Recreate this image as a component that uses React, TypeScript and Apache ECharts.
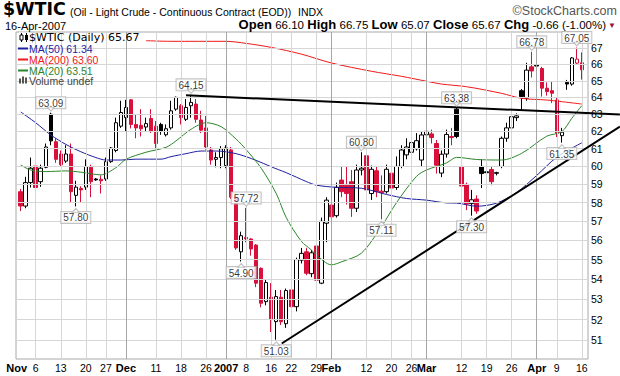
import React, { useEffect, useRef } from 'react';
import * as echarts from 'echarts';

// ---------- trading days (x categories) ----------
const novDays = [1, 2, 3, 6, 7, 8, 9, 10, 13, 14, 15, 16, 17, 20, 21, 22, 24, 27, 28, 29, 30];
const decDays = [1, 4, 5, 6, 7, 8, 11, 12, 13, 14, 15, 18, 19, 20, 21, 22, 26, 27, 28, 29];
const janDays = [2, 3, 4, 5, 8, 9, 10, 11, 12, 16, 17, 18, 19, 22, 23, 24, 25, 26, 29, 30, 31];
const febDays = [1, 2, 5, 6, 7, 8, 9, 12, 13, 14, 15, 16, 20, 21, 22, 23, 26, 27, 28];
const marDays = [1, 2, 5, 6, 7, 8, 9, 12, 13, 14, 15, 16, 19, 20, 21, 22, 23, 26, 27, 28, 29, 30];
const aprDays = [2, 3, 4, 5, 9, 10, 11, 12, 13, 16];

const pad = (n: number) => (n < 10 ? '0' : '') + n;
const dates: string[] = [
  ...novDays.map((d) => `2006-11-${pad(d)}`),
  ...decDays.map((d) => `2006-12-${pad(d)}`),
  ...janDays.map((d) => `2007-01-${pad(d)}`),
  ...febDays.map((d) => `2007-02-${pad(d)}`),
  ...marDays.map((d) => `2007-03-${pad(d)}`),
  ...aprDays.map((d) => `2007-04-${pad(d)}`),
];

// ---------- OHLC ----------
const opens = [
  58.6, 57.82, 59.1, 60.02, 59.15, 59.95, 63.0, 61.4, 60.7, 60.3,
  60.7, 58.4, 58.78, 58.85, 59.95, 59.3, 59.28, 59.3, 60.27, 60.9,
  62.3, 62.8, 63.85, 62.4, 62.35, 62.25, 62.75, 62.3, 62.4, 61.8,
  62.2, 63.3, 63.5, 62.7, 63.5, 63.6, 62.66, 62.2, 60.93, 60.4,
  60.5, 60.05, 60.93, 58.3, 55.4, 56.15, 56.07, 55.75, 54.55, 52.88,
  53.1, 51.9, 53.1, 51.8, 53.46, 52.63, 54.97, 55.4, 54.28, 55.7,
  53.8, 56.9, 57.87, 57.3, 59.24, 58.95, 59.15, 57.7, 59.8, 60.6,
  58.5, 59.76, 58.63, 58.6, 59.62, 58.83, 60.0, 60.65, 60.8, 61.0,
  60.36, 61.8, 61.85, 61.3, 59.63, 60.7, 61.7, 63.3, 60.0, 59.0,
  57.95, 58.2, 60.0, 59.7, 59.83, 59.65, 60.0, 61.6, 62.2, 62.8,
  64.4, 63.95, 65.85, 65.95, 65.75, 64.55, 64.4, 63.84, 61.75, 64.9,
  64.8, 66.08, 66.1,
];
const highs = [
  58.75, 59.42, 60.5, 60.36, 60.1, 61.3, 63.09, 61.6, 60.9, 61.2,
  61.3, 59.2, 58.9, 60.4, 60.1, 59.35, 59.5, 60.5, 61.1, 62.8,
  63.8, 63.85, 63.9, 63.0, 63.3, 62.8, 63.3, 62.6, 62.5, 62.4,
  63.8, 64.05, 63.6, 63.9, 64.15, 63.9, 63.2, 62.9, 61.1, 60.8,
  61.15, 61.2, 61.1, 58.4, 56.45, 57.72, 56.1, 55.8, 54.6, 54.0,
  53.8, 53.46, 53.46, 53.53, 53.65, 55.1, 55.6, 55.6, 55.5, 55.8,
  57.2, 58.3, 58.1, 59.1, 60.0, 60.0, 59.8, 60.1, 60.8, 60.7,
  60.05, 60.0, 59.5, 60.1, 59.7, 60.56, 61.2, 61.6, 61.67, 61.9,
  62.0, 62.45, 62.1, 61.5, 60.9, 62.1, 62.2, 63.38, 60.1, 59.1,
  58.7, 58.4, 60.4, 60.2, 60.0, 59.7, 61.7, 62.5, 63.1, 63.05,
  64.5, 66.1, 66.78, 66.0, 65.85, 64.9, 64.95, 64.0, 62.2, 65.05,
  66.45, 67.05, 66.75,
];
const lows = [
  57.55, 57.7, 58.83, 58.75, 58.87, 59.9, 61.2, 60.2, 60.0, 60.2,
  58.0, 57.8, 58.0, 58.7, 58.3, 59.2, 58.5, 59.2, 60.2, 60.8,
  62.2, 62.0, 62.17, 61.6, 61.7, 62.0, 61.9, 61.0, 61.8, 61.7,
  62.1, 63.2, 62.4, 62.6, 62.8, 62.5, 61.9, 60.95, 60.1, 59.95,
  59.9, 59.9, 58.2, 55.5, 54.9, 55.9, 55.2, 53.6, 52.6, 52.7,
  51.4, 51.03, 51.74, 51.6, 52.5, 52.4, 54.8, 54.2, 54.1, 53.8,
  53.75, 55.9, 57.0, 57.2, 58.3, 57.9, 57.24, 57.5, 59.5, 58.5,
  58.15, 58.3, 57.11, 58.5, 58.3, 58.7, 59.9, 60.4, 60.6, 60.9,
  60.0, 61.6, 61.3, 59.6, 59.4, 60.5, 61.2, 61.6, 58.7, 57.6,
  57.3, 57.4, 58.8, 59.3, 58.95, 59.5, 59.9, 61.4, 62.0, 62.6,
  63.25, 63.8, 65.2, 65.7, 64.05, 64.1, 63.66, 61.67, 61.35, 64.45,
  64.7, 66.0, 65.07,
];
const closes = [
  57.82, 59.1, 59.9, 58.83, 59.9, 61.1, 61.45, 60.4, 60.1, 60.7,
  58.6, 58.85, 58.7, 60.0, 59.15, 59.25, 59.2, 60.27, 61.04, 62.5,
  63.1, 63.4, 62.4, 62.2, 62.15, 62.45, 62.0, 61.3, 62.0, 62.15,
  63.2, 64.0, 62.8, 63.4, 63.7, 62.7, 62.07, 61.1, 60.36, 60.5,
  61.0, 61.05, 58.3, 55.6, 56.24, 56.07, 55.55, 53.8, 52.8, 53.83,
  52.0, 53.13, 51.9, 53.43, 52.63, 55.0, 55.32, 54.3, 55.35, 53.95,
  57.0, 58.14, 57.24, 58.84, 58.6, 58.5, 57.7, 59.8, 59.9, 58.7,
  59.84, 58.6, 58.55, 59.84, 58.8, 60.0, 60.93, 61.1, 61.35, 61.46,
  61.79, 62.0, 61.64, 60.07, 60.69, 61.82, 61.64, 61.7, 58.91, 57.93,
  58.16, 57.55, 59.6, 59.65, 59.15, 59.62, 61.6, 62.2, 62.85, 62.9,
  64.05, 65.65, 65.6, 65.9, 64.55, 64.35, 64.25, 61.9, 61.95, 64.8,
  66.4, 66.33, 65.67,
];
const priorClose = 58.7;

// ---------- moving averages as [day index, value] ----------
const ma50 = [
  [0, 63.13], [3, 62.5], [6, 61.79], [9, 61.25], [12, 60.83], [15, 60.5], [17, 60.36], [20, 60.36],
  [23, 60.41], [28, 60.41], [30, 60.55], [33, 60.72], [36, 60.87], [39, 60.87], [43, 60.72], [47, 60.34],
  [50, 59.98], [53, 59.65], [57, 59.16], [59, 58.96], [63, 58.84], [68, 58.79], [73, 58.45], [77, 58.23],
  [81, 58.14], [85, 57.99], [87, 57.98], [91, 57.81], [95, 57.98], [99, 58.56], [103, 59.5], [107, 60.52],
  [112, 61.34],
];
const ma20 = [
  [0, 60.08], [2, 59.8], [5, 59.71], [9, 59.75], [12, 59.68], [16, 59.53], [19, 59.93], [21, 60.4],
  [25, 60.8], [29, 61.08], [31, 61.45], [34, 62.12], [37, 62.5], [40, 62.27], [43, 61.55], [45, 60.95],
  [48, 59.9], [51, 58.5], [53, 57.2], [56, 55.95], [58, 55.5], [59, 55.24], [62, 54.73], [64, 54.88],
  [68, 55.33], [72, 56.72], [75, 58.0], [79, 59.45], [81, 59.8], [85, 60.2], [87, 60.51], [91, 60.39],
  [96, 60.36], [100, 60.74], [105, 61.72], [108, 61.98], [110, 62.76], [112, 63.51],
];
const ma200 = [
  [25, 67.48], [30, 67.44], [41, 67.44], [45, 67.31], [50, 67.06], [56, 66.64], [62, 66.09], [70, 65.58],
  [76, 65.27], [81, 64.97], [84, 64.8], [89, 64.64], [96, 64.24], [100, 63.94], [105, 63.84], [112, 63.6],
];

// ---------- hand-drawn trend lines [day index, value] ----------
const trendResistance = [[33, 64.12], [119.6, 62.98]];
const trendSupport = [[52.1, 50.85], [119.6, 62.28]];

// ---------- axes ----------
const tickDates = [
  '2006-11-01', '2006-11-06', '2006-11-13', '2006-11-20', '2006-11-27', '2006-12-01', '2006-12-11',
  '2006-12-18', '2006-12-26', '2007-01-02', '2007-01-08', '2007-01-16', '2007-01-22', '2007-01-29',
  '2007-02-01', '2007-02-12', '2007-02-20', '2007-02-26', '2007-03-01', '2007-03-12', '2007-03-19',
  '2007-03-26', '2007-04-02', '2007-04-09', '2007-04-16',
];
const tickTexts = [
  'Nov', '6', '13', '20', '27', 'Dec', '11', '18', '26', '2007', '8', '16', '22', '29',
  'Feb', '12', '20', '26', 'Mar', '12', '19', '26', 'Apr', '9', '16',
];
const monthTicks = ['Nov', 'Dec', '2007', 'Feb', 'Mar', 'Apr'];
const yTicks = [51, 52, 53, 54, 55, 56, 57, 58, 59, 60, 61, 62, 63, 64, 65, 66, 67];

// callouts: day index and whether it marks the high or the low
const calloutIdx = [6, 11, 34, 44, 45, 51, 68, 72, 87, 90, 102, 108, 111];
const calloutSide = ['high', 'low', 'high', 'low', 'high', 'low', 'high', 'low', 'high', 'low', 'high', 'low', 'high'];

const RED = '#d9103c';
const BLACK = '#000000';
const BLUE = '#1e1e9e';
const MRED = '#f01818';
const GREEN = '#2b862b';
const FONT = '"Liberation Sans", Arial, sans-serif';
const VFONT = '"DejaVu Sans", Verdana, sans-serif';

const X_MIN = -0.94;
const X_MAX = 113.23;
const X_MAX_WIDE = 119.62;
const Y_MIN = 50.12;
const Y_MAX = 68.03;

export default function App() {
  const ref = useRef<HTMLDivElement>(null);

  useEffect(() => {
    document.body.style.margin = '0';
    if (!ref.current) return;
    const chart = echarts.init(ref.current, undefined, { renderer: 'svg' });

    const tickIdx = tickDates.map((d) => dates.indexOf(d));
    // the first month label sits on the left frame edge
    const labelPos = tickIdx.map((v, k) => (k === 0 ? v - 0.8 : v));

    const candleData = dates.map((_, i) => {
      const o = opens[i];
      const c = closes[i];
      const prev = i === 0 ? priorClose : closes[i - 1];
      const col = c >= prev ? BLACK : RED;
      const fill = c >= o ? '#ffffff' : col;
      return {
        value: [i, o, c, lows[i], highs[i]],
        itemStyle: { color: fill, color0: fill, borderColor: col, borderColor0: col, borderWidth: 1 },
      };
    });

    const n = closes.length - 1;
    const f2 = (v: number) => v.toFixed(2);
    const chg = closes[n] - closes[n - 1];
    const pct = (chg / closes[n - 1]) * 100;

    const gridLines: any[] = [
      ...yTicks.map((v) => ({
        yAxis: v,
        lineStyle: { color: '#d6d6d6', width: 1, type: 'solid' },
        label: {
          show: true, position: 'end', distance: 3, formatter: String(v),
          color: '#000', fontSize: 10.5, fontFamily: FONT,
        },
      })),
      ...tickIdx.slice(1).map((ix, k) => ({
        xAxis: ix,
        lineStyle: {
          color: monthTicks.includes(tickTexts[k + 1]) ? '#a6a6a6' : '#d6d6d6',
          width: 1, type: 'solid',
        },
        label: { show: false },
      })),
    ];

    const callouts = calloutIdx.map((ix, k) => {
      const hi = calloutSide[k] === 'high';
      const v = hi ? highs[ix] : lows[ix];
      return {
        value: [ix, v],
        label: { position: hi ? 'top' : 'bottom', distance: hi ? 4 : 5 },
      };
    });
    const pointers = calloutIdx.map((ix, k) => {
      const hi = calloutSide[k] === 'high';
      const v = hi ? highs[ix] : lows[ix];
      return {
        value: [ix, v],
        symbolRotate: hi ? 180 : 0,
        symbolOffset: [0, hi ? -3.5 : 4],
      };
    });

    const legendText = (text: string, y: number, color: string, font: string, lh: number) => ({
      type: 'text', x: 29, y, z: 100,
      style: {
        text, fill: color, font, lineHeight: lh,
        verticalAlign: 'middle', textVerticalAlign: 'middle',
      },
    });
    const swatch = (y: number, color: string) => ({
      type: 'line', z: 100,
      shape: { x1: 18, y1: y, x2: 28, y2: y },
      style: { stroke: color, lineWidth: 2 },
    });

    const option: any = {
      animation: false,
      backgroundColor: '#ffffff',
      grid: [
        { left: 16, right: 32, top: 32, bottom: 17, show: true, borderColor: '#a8a8a8', borderWidth: 1, backgroundColor: '#fff' },
        { left: 16, right: 0, top: 32, bottom: 17, show: false },
      ],
      xAxis: [
        {
          type: 'value', gridIndex: 0, min: X_MIN, max: X_MAX,
          splitLine: { show: false }, axisLine: { show: false }, axisTick: { show: false },
          axisLabel: {
            customValues: labelPos,
            margin: 3,
            formatter: (v: number) => {
              const k = labelPos.findIndex((p) => Math.abs(p - v) < 0.01);
              const t = k >= 0 ? tickTexts[k] : '';
              return monthTicks.includes(t) ? `{b|${t}}` : `{n|${t}}`;
            },
            rich: {
              b: { fontFamily: FONT, fontWeight: 'bold', fontSize: 11, color: '#000' },
              n: { fontFamily: FONT, fontSize: 10.5, color: '#000' },
            },
          },
        },
        { type: 'value', gridIndex: 1, min: X_MIN, max: X_MAX_WIDE, show: false },
      ],
      yAxis: [
        {
          type: 'log', gridIndex: 0, min: Y_MIN, max: Y_MAX,
          axisLine: { show: false }, axisTick: { show: false }, axisLabel: { show: false }, splitLine: { show: false },
        },
        { type: 'log', gridIndex: 1, min: Y_MIN, max: Y_MAX, show: false },
      ],
      series: [
        {
          type: 'line', name: 'grid', data: [], xAxisIndex: 0, yAxisIndex: 0, z: 1, silent: true,
          markLine: { silent: true, symbol: ['none', 'none'], animation: false, data: gridLines },
        },
        {
          type: 'candlestick', name: '$WTIC', data: candleData, xAxisIndex: 0, yAxisIndex: 0,
          encode: { x: 0, y: [1, 2, 3, 4] },
          barWidth: 4, z: 3, silent: true,
        },
        {
          type: 'line', name: 'MA(200)', data: ma200, xAxisIndex: 0, yAxisIndex: 0, symbol: 'none',
          smooth: 0.3, lineStyle: { color: MRED, width: 1 }, z: 4, silent: true,
        },
        {
          type: 'line', name: 'MA(50)', data: ma50, xAxisIndex: 0, yAxisIndex: 0, symbol: 'none',
          smooth: 0.3, lineStyle: { color: BLUE, width: 1 }, z: 4, silent: true,
        },
        {
          type: 'line', name: 'MA(20)', data: ma20, xAxisIndex: 0, yAxisIndex: 0, symbol: 'none',
          smooth: 0.3, lineStyle: { color: GREEN, width: 1 }, z: 4, silent: true,
        },
        {
          type: 'line', name: 'resistance', data: trendResistance, xAxisIndex: 1, yAxisIndex: 1,
          symbol: 'none', lineStyle: { color: '#000', width: 2 }, z: 5, silent: true,
        },
        {
          type: 'line', name: 'support', data: trendSupport, xAxisIndex: 1, yAxisIndex: 1,
          symbol: 'none', lineStyle: { color: '#000', width: 2 }, z: 5, silent: true,
        },
        {
          type: 'scatter', name: 'pointers', data: pointers, xAxisIndex: 0, yAxisIndex: 0,
          symbol: 'triangle', symbolSize: [7, 4], z: 7, silent: true,
          itemStyle: { color: '#fff', borderColor: '#b4b4b4', borderWidth: 1 },
        },
        {
          type: 'scatter', name: 'callouts', data: callouts, xAxisIndex: 0, yAxisIndex: 0,
          symbol: 'circle', symbolSize: 1, z: 6, silent: true,
          itemStyle: { color: 'rgba(0,0,0,0)' },
          label: {
            show: true,
            formatter: (p: any) => p.value[1].toFixed(2),
            fontFamily: FONT, fontSize: 10, color: '#000',
            backgroundColor: '#fff', borderColor: '#b4b4b4', borderWidth: 1,
            padding: [1, 2, 0, 2],
          },
        },
      ],
      graphic: [
        // header
        { type: 'text', x: 3, y: 9, style: { text: '$WTIC', font: `bold 17.5px ${VFONT}`, lineHeight: 15, fill: '#000', verticalAlign: 'middle', textVerticalAlign: 'middle' } },
        { type: 'text', x: 70, y: 12, style: { text: '(Oil - Light Crude - Continuous Contract (EOD))', font: `10.5px ${FONT}`, lineHeight: 12, fill: '#000', verticalAlign: 'middle', textVerticalAlign: 'middle' } },
        { type: 'text', x: 298, y: 12, style: { text: 'INDX', font: `10.5px ${FONT}`, lineHeight: 12, fill: '#000', verticalAlign: 'middle', textVerticalAlign: 'middle' } },
        { type: 'text', x: 617, y: 11, style: { text: '©StockCharts.com', font: `12.5px ${FONT}`, lineHeight: 12, fill: '#555', align: 'right', textAlign: 'right', verticalAlign: 'middle', textVerticalAlign: 'middle' } },
        { type: 'text', x: 5, y: 25.5, style: { text: '16-Apr-2007', font: `11px ${FONT}`, lineHeight: 11, fill: '#000', verticalAlign: 'middle', textVerticalAlign: 'middle' } },
        {
          type: 'text', x: 606, y: 24.5,
          style: {
            text: `{b|Open} {n|${f2(opens[n])}} {b|High} {n|${f2(highs[n])}} {b|Low} {n|${f2(lows[n])}} {b|Close} {n|${f2(closes[n])}} {b|Chg} {n|${f2(chg)} (${f2(pct)}%)}`,
            align: 'right', textAlign: 'right', verticalAlign: 'middle', textVerticalAlign: 'middle',
            rich: {
              b: { font: `bold 13px ${FONT}`, fill: '#000', lineHeight: 12 },
              n: { font: `11.5px ${FONT}`, fill: '#000', lineHeight: 12 },
            },
          },
        },
        { type: 'text', x: 612, y: 25, style: { text: '▼', font: `8px ${FONT}`, fill: '#a0103a', align: 'center', textAlign: 'center', verticalAlign: 'middle', textVerticalAlign: 'middle' } },
        // legend
        { type: 'rect', z: 99, shape: { x: 19, y: 32.5, width: 10, height: 10 }, style: { fill: '#fff' } },
        { type: 'line', z: 101, shape: { x1: 21.5, y1: 33, x2: 21.5, y2: 42 }, style: { stroke: '#000', lineWidth: 1 } },
        { type: 'rect', z: 102, shape: { x: 20, y: 35, width: 3, height: 5 }, style: { fill: '#fff', stroke: '#000', lineWidth: 1 } },
        { type: 'line', z: 101, shape: { x1: 26.5, y1: 33, x2: 26.5, y2: 42 }, style: { stroke: '#000', lineWidth: 1 } },
        { type: 'rect', z: 102, shape: { x: 25, y: 35, width: 3, height: 5 }, style: { fill: '#000' } },
        legendText(`$WTIC (Daily) ${f2(closes[n])}`, 37.5, '#000', `11px ${VFONT}`, 10),
        swatch(48.5, BLUE),
        legendText(`MA(50) ${f2(ma50[ma50.length - 1][1])}`, 48.5, BLUE, `10.5px ${FONT}`, 10),
        swatch(59.5, MRED),
        legendText(`MA(200) ${f2(ma200[ma200.length - 1][1])}`, 59.5, MRED, `10.5px ${FONT}`, 10),
        swatch(70.5, GREEN),
        legendText(`MA(20) ${f2(ma20[ma20.length - 1][1])}`, 70.5, GREEN, `10.5px ${FONT}`, 10),
        { type: 'rect', z: 101, shape: { x: 19, y: 78.5, width: 2, height: 5 }, style: { fill: '#555' } },
        { type: 'rect', z: 101, shape: { x: 22, y: 76.5, width: 2, height: 7 }, style: { fill: '#555' } },
        { type: 'rect', z: 101, shape: { x: 25, y: 77.5, width: 2, height: 6 }, style: { fill: '#555' } },
        legendText('Volume undef', 81, '#444', `10.5px ${FONT}`, 10),
      ],
    };

    chart.setOption(option);
    return () => chart.dispose();
  }, []);

  return <div ref={ref} style={{ position: 'fixed', left: 0, top: 0, width: 620, height: 376 }} />;
}
